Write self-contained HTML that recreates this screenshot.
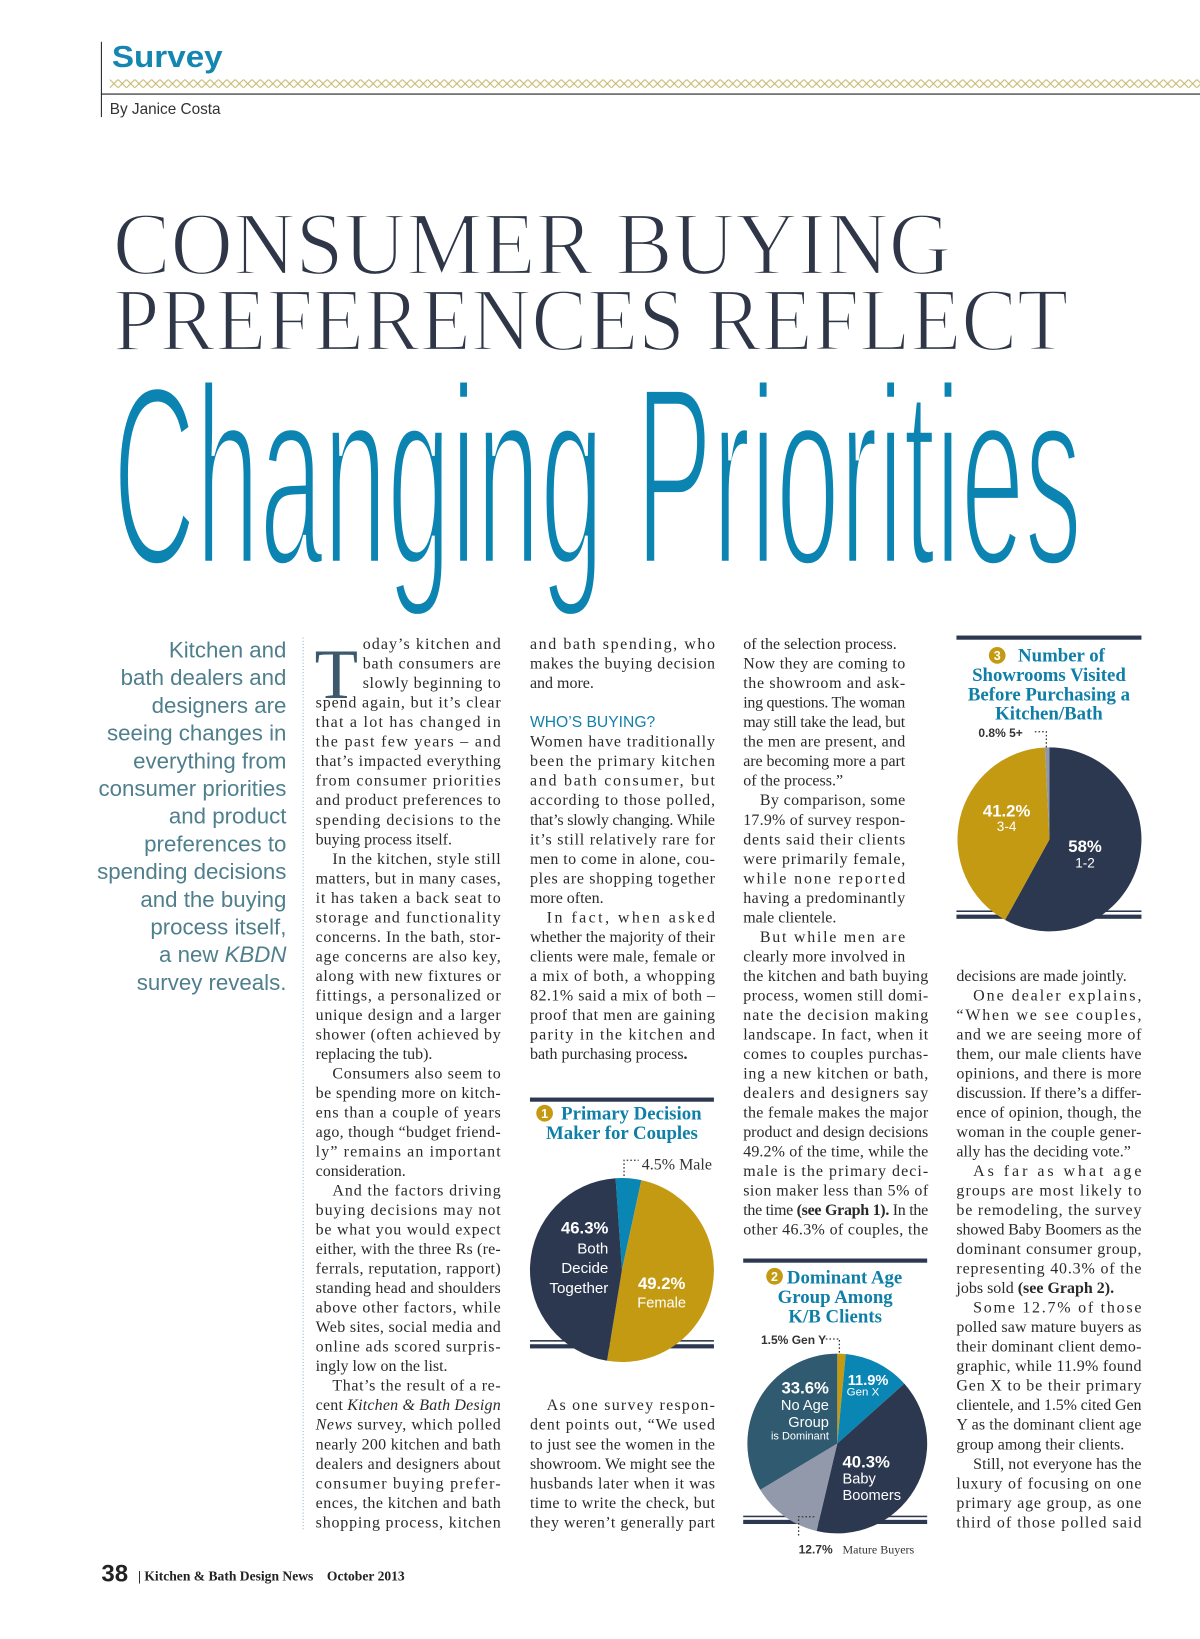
<!DOCTYPE html>
<html><head><meta charset="utf-8">
<style>
html,body{margin:0;padding:0;background:#fff;}
svg{display:block;}
.body{font-family:"Liberation Serif",serif;font-size:15.3px;fill:#2a2a2a;}
.deck{font-family:"Liberation Sans",sans-serif;font-size:21.3px;fill:#4f7f8c;}
.ct{font-family:"Liberation Serif",serif;font-weight:bold;font-size:18px;fill:#0f7fa8;}
.pl{font-family:"Liberation Sans",sans-serif;fill:#fff;}
.sm{font-family:"Liberation Sans",sans-serif;font-weight:bold;font-size:11.5px;fill:#333;}
</style></head>
<body>
<svg id="page" width="1200" height="1639" viewBox="0 0 1148 1568" xmlns="http://www.w3.org/2000/svg">
<defs>
<pattern id="zz" width="8" height="8" patternUnits="userSpaceOnUse" x="105" y="76">
<path d="M0 0 L4 4 L8 0 M0 8 L4 4 L8 8" stroke="#c9b56a" stroke-width="1" fill="none"/>
</pattern>
</defs>
<g>
<line x1="97" y1="40" x2="97" y2="112" stroke="#222" stroke-width="1"/>
<text x="107" y="64" font-family="Liberation Sans,sans-serif" font-weight="bold" font-size="29" fill="#1487b0" textLength="106" lengthAdjust="spacingAndGlyphs">Survey</text>
<rect x="105" y="76" width="1043" height="8" fill="url(#zz)"/>
<line x1="97" y1="90" x2="1148" y2="90" stroke="#222" stroke-width="1"/>
<text x="105" y="109" font-family="Liberation Sans,sans-serif" font-size="15" fill="#333" textLength="106" lengthAdjust="spacingAndGlyphs">By Janice Costa</text>
</g>
<g>
<text x="108" y="262" font-family="Liberation Serif,serif" font-size="86" fill="#2e3648" stroke="#fff" stroke-width="2.2" textLength="802" lengthAdjust="spacingAndGlyphs">CONSUMER BUYING</text>
<text x="108" y="335" font-family="Liberation Serif,serif" font-size="86" fill="#2e3648" stroke="#fff" stroke-width="2.2" textLength="914" lengthAdjust="spacingAndGlyphs">PREFERENCES REFLECT</text>
<text x="108" y="540" font-family="Liberation Sans Narrow,Liberation Sans,sans-serif" font-size="245" fill="#0b84b2" stroke="#fff" stroke-width="7" textLength="927" lengthAdjust="spacingAndGlyphs">Changing Priorities</text>
</g>
<g id="deck"></g>
<line x1="290" y1="610" x2="290" y2="1465" stroke="#8fb3c8" stroke-width="1" stroke-dasharray="1,2"/>
<text x="301" y="668" font-family="Liberation Serif,serif" font-size="68" fill="#3d5a6c">T</text>
<g id="cols"></g>
<g id="charts"></g>
<g>
<text x="97" y="1513" font-family="Liberation Sans,sans-serif" font-weight="bold" font-size="23" fill="#222">38</text>
<text x="132" y="1512" font-family="Liberation Serif,serif" font-weight="bold" font-size="13" fill="#222" xml:space="preserve">| Kitchen &amp; Bath Design News    October 2013</text>
</g>
</svg>
<script>
const NS='http://www.w3.org/2000/svg';
function mk(tag,attrs,parent){const e=document.createElementNS(NS,tag);for(const k in attrs)e.setAttribute(k,attrs[k]);parent.appendChild(e);return e;}

/* ---------- deck ---------- */
const deckLines=['Kitchen and','bath dealers and','designers are','seeing changes in','everything from','consumer priorities','and product','preferences to','spending decisions','and the buying','process itself,','a new KBDN','survey reveals.'];
const deck=document.getElementById('deck');
deckLines.forEach((s,i)=>{
  const t=mk('text',{x:274,y:629+i*26.5,'text-anchor':'end',class:'deck'},deck);
  
  
  if(s.indexOf('KBDN')>=0){t.appendChild(document.createTextNode('a new '));const ts=mk('tspan',{'font-style':'italic'},t);ts.textContent='KBDN';}
  else t.textContent=s;
});

/* ---------- columns ---------- */
const col1=['oday’s kitchen and','bath consumers are','slowly beginning to','spend again, but it’s clear','that a lot has changed in','the past few years – and','that’s impacted everything','from consumer priorities','and product preferences to','spending decisions to the','|buying process itself.','>In the kitchen, style still','matters, but in many cases,','it has taken a back seat to','storage and functionality','concerns. In the bath, stor-','age concerns are also key,','along with new fixtures or','fittings, a personalized or','unique design and a larger','shower (often achieved by','|replacing the tub).','>Consumers also seem to','be spending more on kitch-','ens than a couple of years','ago, though “budget friend-','ly” remains an important','|consideration.','>And the factors driving','buying decisions may not','be what you would expect','either, with the three Rs (re-','ferrals, reputation, rapport)','standing head and shoulders','above other factors, while','Web sites, social media and','online ads scored surpris-','|ingly low on the list.','>That’s the result of a re-','cent _Kitchen & Bath Design_','_News_ survey, which polled','nearly 200 kitchen and bath','dealers and designers about','consumer buying prefer-','ences, the kitchen and bath','shopping process, kitchen'];
const col2a=['and bath spending, who','makes the buying decision','|and more.','','#WHO’S BUYING?','Women have traditionally','been the primary kitchen','and bath consumer, but','according to those polled,','that’s slowly changing. While','it’s still relatively rare for','men to come in alone, cou-','ples are shopping together','|more often.','>In fact, when asked','whether the majority of their','clients were male, female or','a mix of both, a whopping','82.1% said a mix of both –','proof that men are gaining','parity in the kitchen and','|bath purchasing process**.**'];
const col2b=['>As one survey respon-','dent points out, “We used','to just see the women in the','showroom. We might see the','husbands later when it was','time to write the check, but','they weren’t generally part'];
const col3=['|of the selection process.','Now they are coming to','the showroom and ask-','ing questions. The woman','may still take the lead, but','the men are present, and','are becoming more a part','|of the process.”','>By comparison, some','17.9% of survey respon-','dents said their clients','were primarily female,','while none reported','having a predominantly','|male clientele.','>But while men are','clearly more involved in','the kitchen and bath buying','process, women still domi-','nate the decision making','landscape. In fact, when it','comes to couples purchas-','ing a new kitchen or bath,','dealers and designers say','the female makes the major','product and design decisions','49.2% of the time, while the','male is the primary deci-','sion maker less than 5% of','the time **(see Graph 1).** In the','other 46.3% of couples, the'];
const col4=['|decisions are made jointly.','>One dealer explains,','“When we see couples,','and we are seeing more of','them, our male clients have','opinions, and there is more','discussion. If there’s a differ-','ence of opinion, though, the','woman in the couple gener-','|ally has the deciding vote.”','>As far as what age','groups are most likely to','be remodeling, the survey','showed Baby Boomers as the','dominant consumer group,','representing 40.3% of the','|jobs sold **(see Graph 2).**','>Some 12.7% of those','polled saw mature buyers as','their dominant client demo-','graphic, while 11.9% found','Gen X to be their primary','clientele, and 1.5% cited Gen','Y as the dominant client age','|group among their clients.','>Still, not everyone has the','luxury of focusing on one','primary age group, as one','third of those polled said'];

const cols=document.getElementById('cols');
function addCol(x,w,start,lines,narrowUntil,narrowW,dropLines){
  lines.forEach((raw,i)=>{
    if(!raw)return;
    const idx=start+i;
    const y=621+idx*18.67;
    let s=raw,ind=0,just=true,head=false;
    if(s[0]==='>'){ind=16;s=s.slice(1);}
    if(s[0]==='|'){just=false;s=s.slice(1);}
    if(s[0]==='#'){head=true;just=false;s=s.slice(1);}
    let lx=x+ind,lw=w-ind;
    if(narrowUntil!=null&&i<=narrowUntil)lw=narrowW-ind;
    if(dropLines&&i<dropLines){lx=x+45;lw=w-45;}
    const t=mk('text',{x:lx,y:y,class:'body'},cols);
    
    
    if(head){t.setAttribute('style','fill:#1480a8;font-family:"Liberation Sans",sans-serif;font-size:15px;');}
    if(just){t.setAttribute('textLength',lw);t.setAttribute('lengthAdjust','spacing');}
    s.split(/(\*\*[^*]+\*\*|_[^_]+_)/).forEach(seg=>{
      if(!seg)return;
      const ts=mk('tspan',{},t);
      if(seg.startsWith('**')){ts.setAttribute('font-weight','bold');ts.textContent=seg.slice(2,-2);}
      else if(seg.startsWith('_')){ts.setAttribute('font-style','italic');ts.textContent=seg.slice(1,-1);}
      else ts.textContent=seg;
    });
  });
}
addCol(302,177,0,col1,null,0,3);
addCol(507,177,0,col2a);
addCol(507,177,39,col2b);
addCol(711,177,0,col3,16,155);
addCol(915,177,17,col4);

/* ---------- charts ---------- */
const c1Labels=['Male','Female','Both Decide Together'];
const c1Values=[4.5,49.2,46.3];
const c1Colors=['#0a86b5','#c59a13','#2c3850'];
const c2Labels=['Gen Y','Gen X','Baby Boomers','Mature Buyers','No Age Group is Dominant'];
const c2Values=[1.5,11.9,40.3,12.7,33.6];
const c2Colors=['#c59a13','#0a86b5','#2c3850','#9199aa','#2f5a70'];
const c3Labels=['1-2','3-4','5+'];
const c3Values=[58,41.2,0.8];
const c3Colors=['#2c3850','#c59a13','#9199aa'];

const charts=document.getElementById('charts');
function pt(cx,cy,r,a){const rad=a*Math.PI/180;return [cx+r*Math.sin(rad),cy-r*Math.cos(rad)];}
function pie(g,cx,cy,r,startDeg,vals,colors,labels){
  const tot=vals.reduce((a,b)=>a+b,0);let a=startDeg;
  vals.forEach((v,i)=>{
    const sweep=v/tot*360;const p1=pt(cx,cy,r,a),p2=pt(cx,cy,r,a+sweep);
    const path=mk('path',{d:`M${cx} ${cy} L${p1[0]} ${p1[1]} A${r} ${r} 0 ${sweep>180?1:0} 1 ${p2[0]} ${p2[1]} Z`,fill:colors[i]},g);
    
    
    a+=sweep;
  });
}
function txt(g,x,y,s,cls,size,extra){const t=mk('text',Object.assign({x:x,y:y,class:cls,'font-size':size},extra||{}),g);t.textContent=s;return t;}
function header(g,x1,x2,y,titleLines,ty,off){
  mk('rect',{x:x1,y:y,width:x2-x1,height:4,fill:'#2c3850'},g);
  const cx=(x1+x2)/2;
  titleLines.forEach((s,i)=>{
    const t=mk('text',{x:cx+(i===0?off:0),y:ty+i*18.5,'text-anchor':'middle',class:'ct'},g);
    
    
    t.textContent=s;
  });
  return cx;
}
function numBadge(g,x,y,n){mk('circle',{cx:x,cy:y,r:8,fill:'#c59a13'},g);const t=mk('text',{x:x,y:y+4.5,'text-anchor':'middle','font-family':'Liberation Sans,sans-serif','font-weight':'bold','font-size':12,fill:'#fff'},g);t.textContent=n;}
function baseLines(g,x1,x2,y){mk('rect',{x:x1,y:y,width:x2-x1,height:1.5,fill:'#2c3850'},g);mk('rect',{x:x1,y:y+4,width:x2-x1,height:4,fill:'#2c3850'},g);}
function dots(g,d){mk('path',{d:d,stroke:'#333','stroke-width':1.2,'stroke-dasharray':'1.5,2',fill:'none'},g);}

/* chart 1 */
const g1=mk('g',{},charts);


header(g1,507,683,1050,['Primary Decision','Maker for Couples'],1071,9);
numBadge(g1,521,1065,'1');
baseLines(g1,507,683,1282);
pie(g1,595,1215,88,-4,c1Values,c1Colors,c1Labels);
dots(g1,'M597 1125 L597 1110 L611 1110');
txt(g1,614,1119,c1Values[0]+'% '+c1Labels[0],'body',14.5,{style:'fill:#333'});
txt(g1,582,1180,c1Values[2]+'%','pl',16,{'text-anchor':'end','font-weight':'bold'});
['Both','Decide','Together'].forEach((s,i)=>txt(g1,582,1199+i*19,s,'pl',14.5,{'text-anchor':'end','font-family':'Liberation Serif,serif'}));
txt(g1,633,1233,c1Values[1]+'%','pl',16,{'text-anchor':'middle','font-weight':'bold'});
txt(g1,633,1251,c1Labels[1],'pl',14,{'text-anchor':'middle'});

/* chart 2 */
const g2=mk('g',{},charts);


header(g2,711,887,1204,['Dominant Age','Group Among','K/B Clients'],1228,9);
numBadge(g2,741,1221,'2');
baseLines(g2,711,887,1450);
pie(g2,801,1381,86,0,c2Values,c2Colors,c2Labels);
dots(g2,'M790 1281 L803 1281 L803 1296');
txt(g2,728,1286,c2Values[0]+'% '+c2Labels[0],'sm',11);
txt(g2,793,1333,c2Values[4]+'%','pl',16,{'text-anchor':'end','font-weight':'bold'});
txt(g2,793,1349,'No Age','pl',14,{'text-anchor':'end','font-family':'Liberation Serif,serif'});
txt(g2,793,1365,'Group','pl',14,{'text-anchor':'end','font-family':'Liberation Serif,serif'});
txt(g2,793,1377,'is Dominant','pl',10.5,{'text-anchor':'end'});
txt(g2,811,1325,c2Values[1]+'%','pl',14,{'font-weight':'bold'});
txt(g2,810,1335,c2Labels[1],'pl',11,{'font-family':'Liberation Serif,serif'});
txt(g2,806,1404,c2Values[2]+'%','pl',16,{'font-weight':'bold'});
txt(g2,806,1419,'Baby','pl',14,{'font-family':'Liberation Serif,serif'});
txt(g2,806,1435,'Boomers','pl',14,{'font-family':'Liberation Serif,serif'});
dots(g2,'M779 1451 L764 1451 L764 1471');
txt(g2,764,1486,c2Values[3]+'%','sm',13.5,{style:'fill:#333'});
txt(g2,806,1486,c2Labels[3],'body',11.5,{style:'fill:#333;font-size:11.5px'});

/* chart 3 */
const g3=mk('g',{},charts);


header(g3,915,1092,608,['Number of','Showrooms Visited','Before Purchasing a','Kitchen/Bath'],633,12);
numBadge(g3,954,627,'3');
baseLines(g3,915,1092,871);
pie(g3,1004,803,88,0,c3Values,c3Colors,c3Labels);
dots(g3,'M990 700 L1001 700 L1001 715');
txt(g3,936,705,c3Values[2]+'%  '+c3Labels[2],'sm',11);
txt(g3,963,781,c3Values[1]+'%','pl',16,{'text-anchor':'middle','font-weight':'bold'});
txt(g3,963,795,c3Labels[1],'pl',13,{'text-anchor':'middle'});
txt(g3,1038,815,c3Values[0]+'%','pl',16,{'text-anchor':'middle','font-weight':'bold'});
txt(g3,1038,830,c3Labels[0],'pl',13,{'text-anchor':'middle'});
</script>
</body></html>
